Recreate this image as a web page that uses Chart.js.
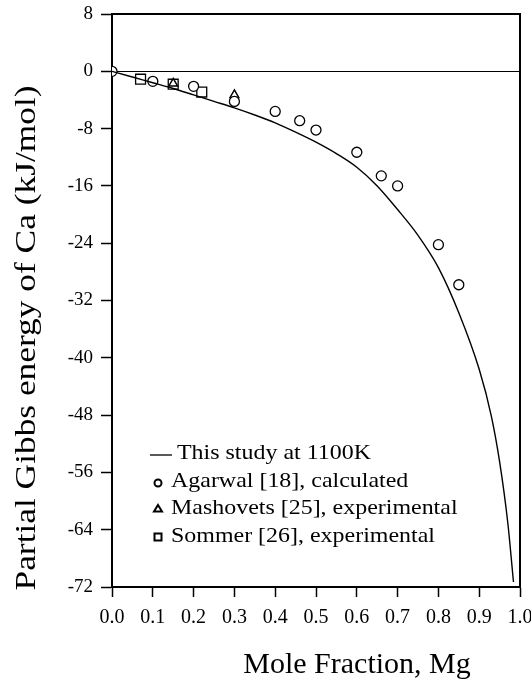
<!DOCTYPE html>
<html>
<head>
<meta charset="utf-8">
<script src="https://cdn.jsdelivr.net/npm/chart.js@4.4.1/dist/chart.umd.min.js"></script>
<style>
    body { margin: 0; background: #fff; }
    canvas { display: block; }
</style>
</head>
<body>
<canvas id="graph" width="531" height="681"></canvas>
<script>
// This study at 1100K (calculated curve)
const studyX = [0, 0.05, 0.1, 0.15, 0.2, 0.25, 0.3, 0.35, 0.4, 0.45, 0.5, 0.55, 0.6, 0.65, 0.7, 0.75, 0.8, 0.85, 0.9, 0.93, 0.95, 0.97, 0.984];
const studyY = [0, -0.8, -1.6, -2.4, -3.3, -4.2, -5.1, -6.1, -7.2, -8.5, -9.9, -11.5, -13.4, -16.0, -19.3, -22.9, -27.4, -33.7, -41.6, -48.2, -54.5, -63.0, -71.3];

// Agarwal [18], calculated
const agarwalX = [0, 0.1, 0.2, 0.3, 0.4, 0.46, 0.5, 0.6, 0.66, 0.7, 0.8, 0.85];
const agarwalY = [0, -1.4, -2.1, -4.2, -5.6, -6.9, -8.2, -11.3, -14.6, -16.0, -24.2, -29.8];

// Mashovets [25], experimental
const mashovetsX = [0.15, 0.3];
const mashovetsY = [-1.7, -3.3];

// Sommer [26], experimental
const sommerX = [0.07, 0.15, 0.22];
const sommerY = [-1.1, -1.8, -2.9];

const xTicks = [0, 0.1, 0.2, 0.3, 0.4, 0.5, 0.6, 0.7, 0.8, 0.9, 1.0];
const yTicks = [8, 0, -8, -16, -24, -32, -40, -48, -56, -64, -72];

const labels = [
    'This study at 1100K',
    'Agarwal [18], calculated',
    'Mashovets [25], experimental',
    'Sommer [26], experimental'
];

const serif = '"Liberation Serif", "Times New Roman", serif';

function pts(xs, ys) {
    return xs.map((x, i) => ({ x: x, y: ys[i] }));
}

// frame on top and right side of the plot
const framePlugin = {
    id: 'frame',
    beforeDatasetsDraw(chart) {
        const { ctx, chartArea: a } = chart;
        ctx.save();
        ctx.strokeStyle = '#000';
        ctx.lineWidth = 2;
        ctx.beginPath();
        ctx.moveTo(a.left, a.top);
        ctx.lineTo(a.right, a.top);
        ctx.lineTo(a.right, a.bottom);
        ctx.stroke();
        ctx.restore();
    }
};

// stretched text helper (the original lettering is wide)
function wideText(ctx, text, x, y, sx) {
    ctx.save();
    ctx.translate(x, y);
    ctx.scale(sx, 1);
    ctx.fillText(text, 0, 0);
    ctx.restore();
}

// axis titles + legend inside the plot
const textPlugin = {
    id: 'texts',
    afterDraw(chart) {
        const ctx = chart.ctx;
        ctx.save();
        ctx.fillStyle = '#000';
        ctx.strokeStyle = '#000';

        // x title
        ctx.font = '30px ' + serif;
        ctx.textAlign = 'center';
        ctx.textBaseline = 'alphabetic';
        ctx.fillText('Mole Fraction, Mg', 357, 673);

        // y title
        ctx.save();
        ctx.translate(35, 338);
        ctx.rotate(-Math.PI / 2);
        ctx.font = '30px ' + serif;
        const yTitle = 'Partial Gibbs energy of Ca (kJ/mol)';
        const w = ctx.measureText(yTitle).width;
        ctx.scale(505 / w, 1);
        ctx.fillText(yTitle, 0, 0);
        ctx.restore();

        // legend
        ctx.font = '21px ' + serif;
        ctx.textAlign = 'left';
        const rows = [459, 487, 514, 542], sx = 1.14;
        rows.forEach((y, i) => wideText(ctx, labels[i], i === 0 ? 177 : 171, y, sx));

        ctx.lineWidth = 1.3;
        ctx.beginPath();
        ctx.moveTo(150, 455);
        ctx.lineTo(172, 455);
        ctx.stroke();

        ctx.lineWidth = 2;
        ctx.beginPath();
        ctx.arc(158, 483, 3.5, 0, Math.PI * 2);
        ctx.stroke();

        ctx.beginPath();
        ctx.moveTo(158, 505);
        ctx.lineTo(162, 511.5);
        ctx.lineTo(154, 511.5);
        ctx.closePath();
        ctx.stroke();

        ctx.strokeRect(154.5, 533.5, 7, 7);
        ctx.restore();
    }
};

new Chart(document.getElementById('graph').getContext('2d'), {
    type: 'scatter',
    data: {
        datasets: [{
            label: labels[0],
            data: pts(studyX, studyY),
            showLine: true,
            borderColor: '#000',
            borderWidth: 1.4,
            pointRadius: 0,
            cubicInterpolationMode: 'monotone',
            order: 0
        }, {
            label: labels[1],
            data: pts(agarwalX, agarwalY),
            pointStyle: 'circle',
            pointRadius: 5,
            borderColor: '#000',
            backgroundColor: '#fff',
            borderWidth: 1.3
        }, {
            label: labels[2],
            data: pts(mashovetsX, mashovetsY),
            pointStyle: 'triangle',
            pointRadius: 5,
            borderColor: '#000',
            backgroundColor: 'rgba(0,0,0,0)',
            borderWidth: 1.5
        }, {
            label: labels[3],
            data: pts(sommerX, sommerY),
            pointStyle: 'rect',
            pointRadius: 7,
            borderColor: '#000',
            backgroundColor: 'rgba(0,0,0,0)',
            borderWidth: 1.3
        }]
    },
    options: {
        responsive: false,
        animation: false,
        layout: { padding: { top: 14, right: 11, left: 0, bottom: 0 } },
        plugins: {
            legend: { display: false },
            tooltip: { enabled: false }
        },
        scales: {
            x: {
                type: 'linear',
                min: 0,
                max: 1,
                afterFit: (scale) => {
                    scale.height = 94;
                    scale.paddingLeft = 0;
                    scale.paddingRight = 0;
                },
                afterBuildTicks: (scale) => { scale.ticks = xTicks.map(v => ({ value: v })); },
                ticks: {
                    color: '#000',
                    font: { family: serif, size: 20 },
                    padding: 9,
                    maxRotation: 0,
                    callback: (v) => v.toFixed(1)
                },
                grid: {
                    drawOnChartArea: false,
                    tickColor: '#000',
                    tickLength: 10,
                    tickWidth: 1.5
                },
                border: { color: '#000', width: 2 }
            },
            y: {
                min: -72,
                max: 8,
                afterFit: (scale) => {
                    scale.width = 112;
                    scale.paddingTop = 0;
                    scale.paddingBottom = 0;
                },
                afterBuildTicks: (scale) => { scale.ticks = yTicks.map(v => ({ value: v })); },
                ticks: {
                    color: '#000',
                    font: { family: serif, size: 19 },
                    padding: 8
                },
                grid: {
                    color: (c) => (c.tick && c.tick.value === 0 ? '#000' : 'rgba(0,0,0,0)'),
                    lineWidth: 1,
                    tickColor: '#000',
                    tickLength: 11,
                    tickWidth: 1.5
                },
                border: { color: '#000', width: 2 }
            }
        }
    },
    plugins: [framePlugin, textPlugin]
});
</script>
</body>
</html>
